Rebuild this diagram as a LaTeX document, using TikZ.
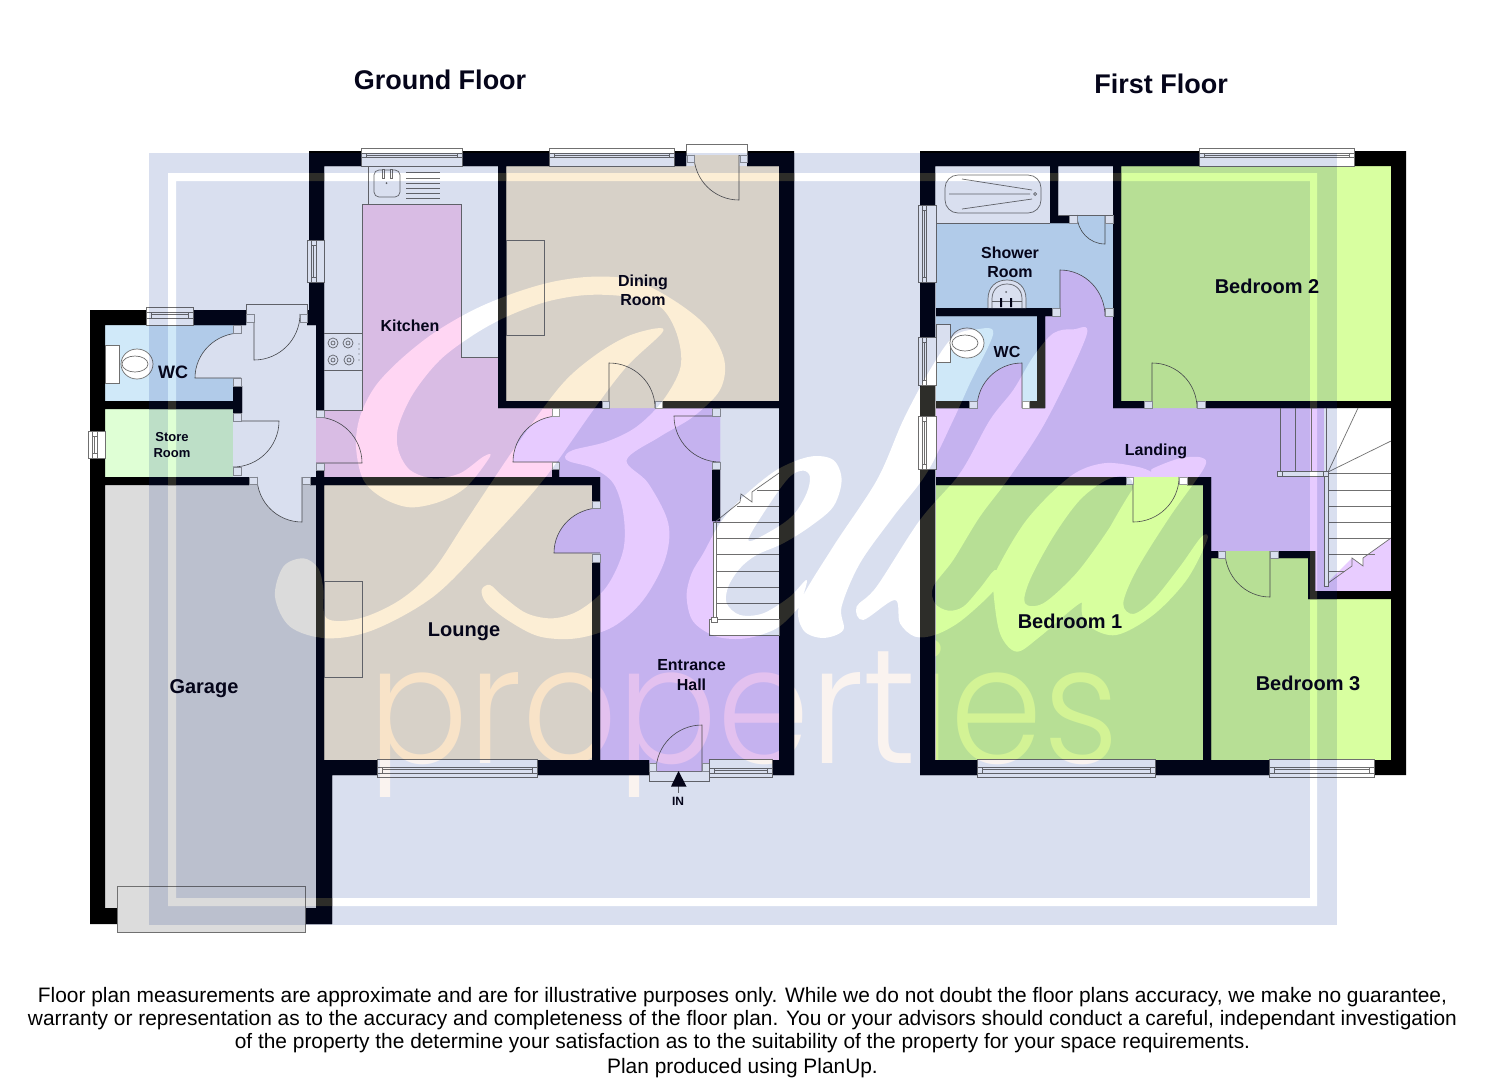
\documentclass[tikz,border=0pt]{standalone}
\usepackage{fontspec}
\usepackage{graphicx}
\setmainfont{Liberation Sans}
\newfontfamily\wmfont{Poppins Light}
\usetikzlibrary{calc}
\definecolor{wallc}{HTML}{000000}
\definecolor{navyw}{HTML}{02061A}
\definecolor{ghost}{HTML}{2E2E2A}
\definecolor{maskblue}{HTML}{D9DFEF}
\definecolor{dodgec}{HTML}{262010}
\definecolor{dodget}{HTML}{221500}
\definecolor{cream}{HTML}{FDEFD6}
\definecolor{pinkk}{HTML}{FFD8F4}
\definecolor{hallc}{HTML}{E8CCFF}
\definecolor{bedc}{HTML}{D8FFA0}
\definecolor{wetc}{HTML}{D0E9F9}
\definecolor{storec}{HTML}{DFFFD5}
\definecolor{garc}{HTML}{DCDCDC}
\definecolor{linec}{HTML}{707070}
\definecolor{doorc}{HTML}{505050}
\definecolor{labc}{HTML}{05051A}
\tikzset{
 fix/.style={draw=linec,line width=.7pt},
 fixw/.style={draw=linec,line width=.7pt,fill=white},
 doorline/.style={draw=doorc,line width=.6pt},
 lab/.style={text=labc,font=\bfseries,inner sep=0pt,align=center},
 note/.style={text=black,inner sep=0pt,anchor=base,font=\fontsize{20.9}{20.9}\selectfont},
}
\newcommand\wallrects{
 (90,310) rectangle (105,924) (90,908) rectangle (332,924) (316,760) rectangle (332,924)
 (90,310) rectangle (246,325) (307,310) rectangle (324,325) (309,151) rectangle (324,325)
 (316,325) rectangle (324,410) (316,470) rectangle (324,760) (105,401) rectangle (242,409)
 (233,386) rectangle (242,413) (105,477) rectangle (249,485) (310,477) rectangle (600,485)
 (552,469) rectangle (559,477) (592,477) rectangle (600,501) (592,562) rectangle (600,760)
 (324,760) rectangle (649,775) (709,760) rectangle (794,775) (779,151) rectangle (794,775)
 (309,151) rectangle (686,166) (747,151) rectangle (794,166) (498,166) rectangle (506,408)
 (498,401) rectangle (602,408) (662,401) rectangle (794,408) (712,469) rectangle (720,521)
 (920,151) rectangle (935,775) (920,151) rectangle (1406,166) (1391,151) rectangle (1406,775)
 (920,760) rectangle (1406,775) (936,308) rectangle (1052,316) (1037,316) rectangle (1045,408)
 (936,401) rectangle (969,408) (1029,401) rectangle (1045,408) (1050,166) rectangle (1058,223)
 (1050,215) rectangle (1069,223) (1113,166) rectangle (1121,408) (1113,401) rectangle (1144,408)
 (1205,401) rectangle (1406,408) (936,477) rectangle (1126,485) (1187,477) rectangle (1211,485)
 (1203,477) rectangle (1211,760) (1211,551) rectangle (1218,558) (1278,551) rectangle (1315,558)
 (1308,551) rectangle (1315,599) (1308,591) rectangle (1391,599)
}
\newcommand\door[4]{%
 \coordinate (dC) at ($(#2)+(#3)-(#1)$);
 \fill[#4] (#1) -- (#2) .. controls ($(#2)!.5523!(dC)$) and ($(#3)!.5523!(dC)$) .. (#3) -- cycle;
 \draw[doorline] (#1) -- (#2) .. controls ($(#2)!.5523!(dC)$) and ($(#3)!.5523!(dC)$) .. (#3);
}
\newcommand\dsq[2]{\draw[draw=linec!70,line width=.5pt,fill=white] (#1) rectangle (#2);}
% horizontal window: x1 x2 y1 y2 ia ib
\newcommand\hwin[6]{
 \draw[fixw] (#1,#3) rectangle (#2,#4);
 \draw[fix] (#1,#5) -- (#2,#5) (#1,#6) -- (#2,#6) ($(#1,#5)+(5,0)$) -- ($(#1,#6)+(5,0)$) ($(#2,#5)+(-5,0)$) -- ($(#2,#6)+(-5,0)$);
 \draw[fix] ($(#1,#5)+(5,2)$) -- ($(#2,#5)+(-5,2)$);
}
% vertical window: x1 x2 y1 y2 ia ib
\newcommand\vwin[6]{
 \draw[fixw] (#1,#3) rectangle (#2,#4);
 \draw[fix] (#5,#3) -- (#5,#4) (#6,#3) -- (#6,#4) ($(#5,#3)+(0,5)$) -- ($(#6,#3)+(0,5)$) ($(#5,#4)+(0,-5)$) -- ($(#6,#4)+(0,-5)$);
 \draw[fix] ($(#5,#3)+(2,5)$) -- ($(#5,#4)+(2,-5)$);
}
% the script lettering: one path, all outlines clockwise, counters anticlockwise
\newcommand\wmpath{
 plot[smooth cycle,tension=.55] coordinates {(690,590)(620,680)(540,725)(450,742)(370,715)(310,660)(288,560)(300,470)(345,380)(420,300)(520,220)(640,150)(760,100)(880,65)(1000,50)(1120,60)(1240,120)(1340,200)(1393,300)(1380,390)(1300,470)(1200,530)(1100,600)(1165,670)(1225,790)(1215,900)(1150,1020)(1060,1100)(950,1135)(840,1130)(750,1085)(680,1030)(665,990)(690,975)(730,1010)(800,1060)(880,1075)(960,1050)(1040,980)(1090,870)(1090,760)(1060,670)(1000,625)(930,605)(915,590)(940,570)(1040,545)(1130,500)(1210,420)(1262,320)(1250,220)(1200,140)(1100,110)(980,105)(860,125)(740,170)(640,225)(540,300)(460,400)(415,500)(415,570)(450,630)(520,655)(600,640)(670,590)}
 plot[smooth cycle,tension=.55] coordinates {(1205,220)(1100,320)(1000,450)(850,660)(680,850)(520,1010)(340,1110)(200,1135)(90,1100)(45,1010)(70,920)(130,895)(175,925)(190,985)(200,1075)(300,1075)(420,1020)(520,930)(620,780)(760,570)(900,380)(1000,290)(1100,230)(1190,205)}
 plot[smooth cycle,tension=.55] coordinates {(1280,1010)(1295,940)(1330,880)(1380,790)(1445,715)(1550,630)(1650,590)(1720,600)(1745,660)(1720,740)(1650,800)(1570,850)(1490,885)(1440,925)(1405,980)(1400,1030)(1440,1065)(1510,1060)(1590,1010)(1640,960)(1625,1020)(1610,1050)(1550,1105)(1460,1135)(1370,1130)(1300,1085)}
 plot[smooth cycle,tension=.55] coordinates {(1465,840)(1530,815)(1600,765)(1640,700)(1650,650)(1630,632)(1590,650)(1530,730)}
 plot[smooth cycle,tension=.55] coordinates {(2130,370)(2080,480)(2000,640)(1900,770)(1800,910)(1745,1040)(1750,1110)(1689,1134)(1630,1110)(1620,1029)(1719,861)(1851,660)(1930,480)(2010,330)(2080,230)(2150,208)(2200,220)}
 plot[smooth cycle,tension=.55] coordinates {(2360,480)(2250,650)(2160,770)(2080,900)(2020,980)(2025,1030)(2065,1052)(2110,1040)(2160,985)(2205,930)(2220,960)(2190,1005)(2100,1085)(2025,1125)(1965,1130)(1920,1090)(1905,1020)(1810,1080)(1790,1040)(1850,980)(1980,780)(2100,640)(2190,480)(2260,390)(2320,290)(2380,220)(2440,208)(2480,225)}
 plot[smooth cycle,tension=.55] coordinates {(2200,990)(2205,940)(2300,780)(2430,650)(2530,610)(2630,620)(2680,640)(2710,680)(2630,860)(2530,1010)(2460,1030)(2340,1130)(2270,1175)(2220,1120)}
 plot[smooth cycle,tension=.55] coordinates {(2295,1030)(2350,1030)(2440,950)(2510,860)(2590,740)(2620,680)(2600,650)(2540,660)(2460,720)(2380,830)(2310,960)}
 plot[smooth cycle,tension=.55] coordinates {(2680,625)(2760,595)(2825,593)(2832,625)(2730,770)(2630,930)(2590,1030)(2620,1062)(2680,1020)(2760,920)(2825,830)(2842,840)(2780,960)(2680,1065)(2570,1125)(2490,1100)(2465,1040)(2500,900)(2610,700)(2670,640)}
}
\newcommand\wmletters[1]{
 \begin{scope}[shift={(260,260)},x=0.3333pt,y=-0.3333pt]
 \fill[#1] \wmpath;
 \end{scope}
}
\newcommand\wmring[1]{\fill[#1,even odd rule] (168,173) rectangle (1317,906) (176,181) rectangle (1310,898);}
\begin{document}
\begin{tikzpicture}[x=1pt,y=-1pt]
\useasboundingbox (0,0) rectangle (1485,1080);
\fill[white] (0,0) rectangle (1485,1080);
% room floors
\fill[wetc] (105,325) rectangle (233,401);
\fill[storec] (105,409) rectangle (233,477);
\fill[garc] (105,485) rectangle (316,908);
\fill[cream] (324,485) rectangle (592,760);
\fill[cream] (506,166) rectangle (779,401);
\fill[cream] (694,155) rectangle (739,166);
\fill[cream] (609,401) rectangle (655,408);
\fill[pinkk] (316,410) -- (362,410) -- (362,204) -- (461,204) -- (461,357) -- (498,357) -- (498,408) -- (552,408) -- (552,477) -- (316,477) -- cycle;
\fill[hallc] (552,408) -- (720,408) -- (720,522) -- (713,522) -- (713,619) -- (709,619) -- (709,635) -- (779,635) -- (779,760) -- (709,760) -- (709,771) -- (649,771) -- (649,760) -- (600,760) -- (600,485) -- (552,485) -- cycle;
\fill[wetc] (936,223) -- (1069,223) -- (1069,215) -- (1113,215) -- (1113,308) -- (936,308) -- cycle;
\fill[wetc] (936,316) rectangle (1037,401);
\fill[hallc] (936,408) rectangle (1280,477);
\fill[hallc] (1045,316) rectangle (1113,408);
\fill[hallc] (1211,408) rectangle (1324,551);
\fill[hallc] (1315,470) rectangle (1324,591);
\fill[hallc] (1324,586) -- (1352,558) -- (1363,566) -- (1363,558) -- (1391,538) -- (1391,591) -- (1324,591) -- cycle;
\fill[hallc] (1280,471) rectangle (1326,477);
\fill[hallc] (1060,308) rectangle (1105,316);
\fill[hallc] (977,400) rectangle (1022,408);
\fill[bedc] (936,485) rectangle (1203,760);
\fill[bedc] (1133,477) rectangle (1179,485);
\fill[bedc] (1121,166) rectangle (1391,401);
\fill[bedc] (1152,401) rectangle (1197,408);
\fill[bedc] (1211,558) -- (1308,558) -- (1308,599) -- (1391,599) -- (1391,760) -- (1211,760) -- cycle;
\fill[bedc] (1225,551) rectangle (1270,558);
% walls
\fill[wallc] \wallrects;
\begin{scope}
 \clip \wallrects;
 \fill[navyw] (149,153) rectangle (1337,925);
 \wmletters{ghost}
 \wmring{ghost}
\end{scope}
% door steps
\draw[fixw] (246,304) rectangle (307,314);
\draw[fixw] (686,144) rectangle (747,155);
\draw[fixw] (649,771) rectangle (709,781);
% doors
\door{254,314}{254,360}{300,314}{white}
\door{241,378}{195,378}{241,333}{white}
\door{233,421}{279,421}{233,467}{white}
\door{302,477}{302,522}{257,477}{white}
\door{316,463}{362,463}{316,417}{pinkk}
\door{739,155}{739,200}{694,155}{cream}
\door{609,408}{609,363}{655,408}{cream}
\door{559,462}{513,462}{559,416}{hallc}
\door{720,416}{674,416}{720,462}{hallc}
\door{600,553}{554,553}{600,508}{hallc}
\door{702,771}{702,725}{656,771}{hallc}
\door{1105,215}{1105,244}{1077,215}{wetc}
\door{1060,316}{1060,270}{1105,316}{hallc}
\door{1022,408}{1022,363}{977,408}{hallc}
\door{1152,408}{1152,363}{1197,408}{bedc}
\door{1133,477}{1133,522}{1179,477}{bedc}
\door{1270,551}{1270,597}{1225,551}{bedc}
% door jamb squares
\dsq{246,314}{254,322}\dsq{300,314}{307,322}\dsq{233,325}{241,333}\dsq{233,378}{241,386}
\dsq{233,413}{241,421}\dsq{233,467}{241,475}\dsq{249,477}{257,484}\dsq{302,477}{310,484}
\dsq{316,410}{324,417}\dsq{316,463}{324,470}\dsq{552,408}{559,416}\dsq{552,462}{559,469}
\dsq{712,408}{720,416}\dsq{712,462}{720,469}\dsq{592,501}{600,508}\dsq{592,554}{600,562}
\dsq{602,401}{609,408}\dsq{655,401}{662,408}\dsq{687,155}{694,162}\dsq{740,155}{747,162}
\dsq{649,763}{656,771}\dsq{702,763}{709,771}
\dsq{1052,308}{1060,316}\dsq{1105,308}{1113,316}\dsq{1069,215}{1077,223}\dsq{1105,215}{1113,223}
\dsq{969,401}{977,408}\dsq{1022,401}{1029,408}\dsq{1144,401}{1152,408}\dsq{1197,401}{1205,408}
\dsq{1126,477}{1133,484}\dsq{1179,477}{1187,484}\dsq{1218,551}{1225,558}\dsq{1270,551}{1278,558}
% windows
\hwin{361}{462}{148}{166}{153}{157}
\hwin{549}{674}{148}{166}{153}{157}
\hwin{146}{193}{307}{325}{312}{318}
\hwin{377}{537}{759}{777}{767}{773}
\hwin{709}{772}{759}{777}{768}{773}
\hwin{1199}{1354}{148}{166}{153}{157}
\hwin{977}{1155}{759}{777}{767}{773}
\hwin{1269}{1374}{759}{777}{767}{773}
\vwin{88}{105}{431}{458}{92}{97}
\vwin{307}{324}{240}{282}{311}{316}
\vwin{918}{936}{205}{282}{922}{926}
\vwin{918}{936}{337}{385}{922}{926}
\vwin{918}{936}{416}{469}{922}{926}
% garage door
\draw[fix,fill=garc] (117,886) rectangle (305,932);
% kitchen fittings
\draw[fix] (324,410) -- (362,410) -- (362,204) -- (461,204) -- (461,357) -- (498,357);
\draw[fix] (368,166) -- (368,204);
\draw[fix] (324,333) -- (362,333) (324,370) -- (362,370);
\draw[fix,rounded corners=5pt] (374,170) rectangle (400,197);
\draw[fix,fill=white] (382,169) rectangle (384,178) (390,169) rectangle (392,178);
\fill[linec] (386.5,183) circle[radius=1];
\draw[fix] (406,172) -- (440,172) (406,178) -- (440,178) (406,183) -- (440,183) (406,188) -- (440,188) (406,193) -- (440,193) (406,198) -- (440,198);
\foreach \hx/\hy in {333/343,348/343,333/360,349/360}{
 \draw[fix] (\hx,\hy) circle[radius=5];
 \draw[fix] (\hx,\hy) circle[radius=2];
}
\foreach \dy in {344,349,354,360}{\fill[linec] (359,\dy) circle[radius=.6];}
% chimney breasts
\draw[fix] (506,240) rectangle (544,335);
\draw[fix] (324,581) rectangle (362,677);
% ground floor WC
\draw[fix,fill=white] (105,345) rectangle (119,383);
\draw[fix,fill=white] (137,364) ellipse[x radius=16,y radius=15];
\draw[fix] (135,364) ellipse[x radius=13,y radius=8];
% ground floor stairs
\draw[fix] (716,522) -- (779,522) (716,538) -- (779,538) (716,554) -- (779,554) (716,571) -- (779,571) (716,587) -- (779,587) (716,603) -- (779,603);
\draw[fix] (737,506) -- (779,506) (757,490) -- (779,490);
\draw[fix] (715,522) -- (740,502) -- (741,494) -- (752,502) -- (752,492) -- (779,473);
\draw[fixw] (713,522) rectangle (716,620);
\draw[fixw] (709,619) rectangle (779,635);
\draw[fixw] (711,617) rectangle (717,622);
% IN arrow
\draw[fix] (678,786) -- (678,793);
\fill[labc] (678.5,771) -- (671,786.5) -- (686.5,786.5) -- cycle;
% shower room fittings
\draw[fix] (936,223) -- (1050,223);
\draw[fix] (1058,215) -- (1113,215);
\draw[fix,rounded corners=13pt] (945,175) rectangle (1041,213);
\draw[fix] (949,194) -- (1030,194) (962,179) -- (1032,190) (962,209) -- (1032,199);
\draw[fix] (1035,194) circle[radius=1.5];
\draw[fix,fill=white] (988,308) -- (988,299) .. controls (988,287) and (996,280) .. (1007,280) .. controls (1018,280) and (1026,287) .. (1026,299) -- (1026,308);
\draw[fix] (992,308) -- (992,299) .. controls (992,290) and (998,284) .. (1007,284) .. controls (1016,284) and (1022,290) .. (1022,299) -- (1022,308);
\draw[fix] (992,301) -- (1022,301);
\fill[labc] (1000,298) rectangle (1002,307) (1010,298) rectangle (1012,307);
\fill[linec] (1006,292) circle[radius=1];
% first floor WC
\draw[fix,fill=white] (936,324) rectangle (950,362);
\draw[fix,fill=white] (967,343) ellipse[x radius=17,y radius=15];
\draw[fix] (965,343) ellipse[x radius=13,y radius=8];
% first floor stairs
\draw[fix] (1280,408) -- (1280,471) (1295,408) -- (1295,471) (1311,408) -- (1311,471) (1326,408) -- (1326,471);
\draw[fix] (1328,473) -- (1391,473) (1328,490) -- (1391,490) (1328,506) -- (1391,506) (1328,522) -- (1391,522) (1328,538) -- (1391,538) (1328,554) -- (1375,554) (1328,571) -- (1345,571);
\draw[fix] (1328,472) -- (1358,408) (1328,472) -- (1391,441);
\draw[fix] (1324,586) -- (1352,566) -- (1352,558) -- (1363,566) -- (1363,558) -- (1391,538);
\draw[fixw] (1324,476) rectangle (1328,586);
\draw[fixw] (1277,471) rectangle (1328,476);
\draw[fixw] (1277,471) rectangle (1282,476);
\draw[fixw] (1323,471) rectangle (1328,476);
% watermark: a blue sheet multiplied over the plan; lettering and ring dodge it back
\begin{scope}[blend mode=multiply]
 \fill[maskblue] (149,153) rectangle (1337,925);
\end{scope}
\begin{scope}[blend mode=color dodge]
 \wmletters{dodgec}
 \wmring{dodgec}
 \begin{scope}
  \clip (360,630) rectangle (1130,796);
  \node[anchor=base west,inner sep=0pt,text=dodget] (wmword) at (368,763) {\resizebox{750pt}{123pt}{\wmfont properties}};
 \end{scope}
\end{scope}
% labels
\node[lab,font=\bfseries\fontsize{27}{27}\selectfont] (gf) at (440,80) {Ground Floor};
\node[lab,font=\bfseries\fontsize{27}{27}\selectfont] (ff) at (1161,84) {First Floor};
\node[lab,font=\bfseries\fontsize{16}{19}\selectfont] (kit) at (410,326) {Kitchen};
\node[lab,font=\bfseries\fontsize{16}{19}\selectfont] (din) at (643,290.5) {Dining\\Room};
\node[lab,font=\bfseries\fontsize{20}{20}\selectfont] (lou) at (464,632) {Lounge};
\node[lab,font=\bfseries\fontsize{20}{20}\selectfont] (gar) at (204,689) {Garage};
\node[lab,font=\bfseries\fontsize{18}{18}\selectfont] (wcg) at (173,372) {WC};
\node[lab,font=\bfseries\fontsize{13}{16}\selectfont] (sto) at (172,445) {Store\\Room};
\node[lab,font=\bfseries\fontsize{16}{20}\selectfont] (hal) at (691.5,675) {Entrance\\Hall};
\node[lab,font=\bfseries\fontsize{12}{12}\selectfont] (inl) at (678,801) {IN};
\node[lab,font=\bfseries\fontsize{16}{19}\selectfont] (sho) at (1010,262.5) {Shower\\Room};
\node[lab,font=\bfseries\fontsize{16}{16}\selectfont] (wcf) at (1007,352) {WC};
\node[lab,font=\bfseries\fontsize{16}{16}\selectfont] (lan) at (1156,451) {Landing};
\node[lab,font=\bfseries\fontsize{20}{20}\selectfont] (bd2) at (1267,286) {Bedroom 2};
\node[lab,font=\bfseries\fontsize{20}{20}\selectfont] (bd1) at (1070,621) {Bedroom 1};
\node[lab,font=\bfseries\fontsize{20}{20}\selectfont] (bd3) at (1308,683) {Bedroom 3};
\node[note] (n1) at (742.5,1002) {Floor plan measurements are approximate and are for illustrative purposes only. While we do not doubt the floor plans accuracy, we make no guarantee,};
\node[note] (n2) at (742.5,1025) {warranty or representation as to the accuracy and completeness of the floor plan. You or your advisors should conduct a careful, independant investigation};
\node[note] (n3) at (742.5,1048) {of the property the determine your satisfaction as to the suitability of the property for your space requirements.};
\node[note] (n4) at (742.5,1073) {Plan produced using PlanUp.};
\end{tikzpicture}
\end{document}
